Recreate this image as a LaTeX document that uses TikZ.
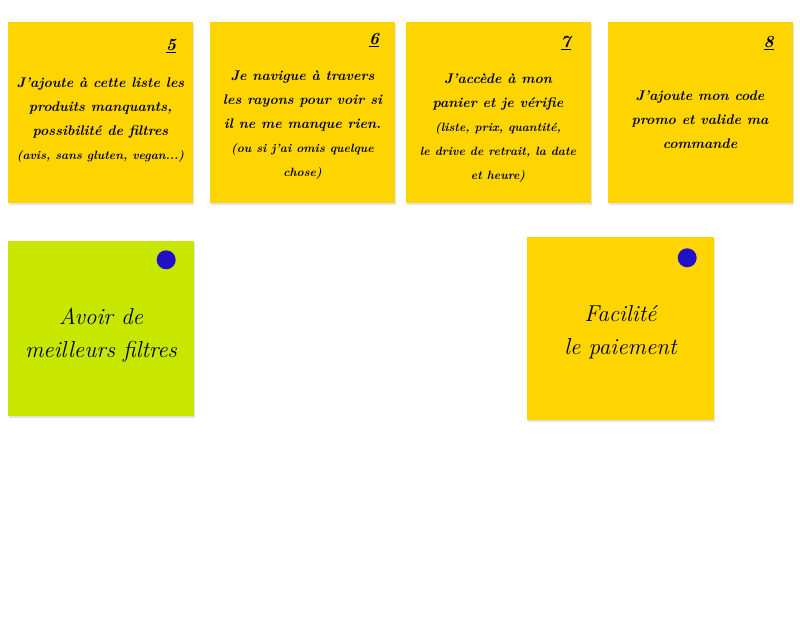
\documentclass[tikz,border=0pt]{standalone}
\usepackage{tikz}
\usetikzlibrary{positioning,shadows}
\definecolor{postit}{RGB}{255,213,0}
\definecolor{postitgreen}{RGB}{200,231,0}
\definecolor{pinblue}{RGB}{32,16,200}
\tikzset{
  note/.style     = {fill=postit, inner sep=0pt, minimum width=185pt, minimum height=181pt,
                     drop shadow={shadow xshift=1pt, shadow yshift=-2pt, opacity=0.22}},
  notetext/.style = {align=center, inner sep=0pt, font=\bfseries\itshape\fontsize{14}{24}\selectfont},
  num/.style      = {inner sep=0pt, font=\bfseries\itshape\fontsize{17}{18}\selectfont},
  pin/.style      = {circle, fill=pinblue, inner sep=0pt, minimum size=19pt},
  idea/.style     = {align=center, inner sep=0pt, font=\itshape\fontsize{23}{33}\selectfont},
}
\newcommand{\smalltxt}[1]{{\fontsize{12}{23}\selectfont #1}}

\begin{document}
\begin{tikzpicture}[x=1pt,y=-1pt]
  \useasboundingbox[fill=white] (0,0) rectangle (800,620);
  \node[note] (n5) at (100.5,112.5) {};
  \node[note] (n6) at (302.5,112.5) {};
  \node[note] (n7) at (498,112.5) {};
  \node[note] (n8) at (700,112.5) {};
  \node[num] (k5) at ([xshift=-22pt,yshift=-24pt]n5.north east) {\underline{5}};
  \node[num] (k6) at ([xshift=-21pt,yshift=-18pt]n6.north east) {\underline{6}};
  \node[num] (k7) at ([xshift=-25pt,yshift=-21pt]n7.north east) {\underline{7}};
  \node[num] (k8) at ([xshift=-24pt,yshift=-21pt]n8.north east) {\underline{8}};
  \node[notetext] (t5) at ([yshift=-8pt]n5.center)
      {J'ajoute à cette liste les\\ produits manquants,\\ possibilité de filtres\\
       \smalltxt{(avis, sans gluten, vegan...)}};
  \node[notetext] (t6) at ([yshift=-13pt]n6.center)
      {Je navigue à travers\\ les rayons pour voir si\\ il ne me manque rien.\\
       \smalltxt{(ou si j'ai omis quelque}\\ \smalltxt{chose)}};
  \node[notetext] (t7) at ([yshift=-16pt]n7.center)
      {J'accède à mon\\ panier et je vérifie\\ \smalltxt{(liste, prix, quantité,}\\
       \smalltxt{le drive de retrait, la date}\\ \smalltxt{et heure)}};
  \node[notetext] (t8) at ([yshift=-7pt]n8.center)
      {J'ajoute mon code\\ promo et valide ma\\ commande};

  \node[note, fill=postitgreen, minimum width=186pt, minimum height=175pt] (g1) at (101,328.5) {};
  \node[note, minimum width=187pt, minimum height=183pt] (y1) at (620.5,328.5) {};
  \node[pin] (p1) at ([xshift=-28pt,yshift=-19pt]g1.north east) {};
  \node[pin] (p2) at ([xshift=-27pt,yshift=-21pt]y1.north east) {};
  \node[idea] (i1) at ([yshift=-7pt]g1.center) {Avoir de\\ meilleurs filtres};
  \node[idea] (i2) at ([yshift=-4pt]y1.center) {Facilité\\ le paiement};
\end{tikzpicture}
\end{document}
